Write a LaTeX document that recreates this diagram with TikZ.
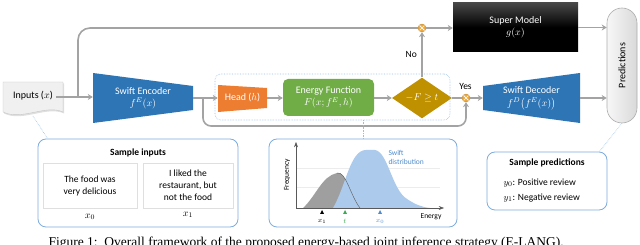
\documentclass[tikz,border=0pt]{standalone}
\usepackage{fontspec}
\setmainfont{Carlito}
\newfontfamily\capfont{Liberation Serif}
\usetikzlibrary{calc, arrows.meta, shapes.geometric, shadows}

\definecolor{swiftblue}{RGB}{46,117,182}
\definecolor{headorange}{RGB}{237,125,49}
\definecolor{energygreen}{RGB}{112,173,71}
\definecolor{gategold}{RGB}{191,144,0}
\definecolor{switchorange}{RGB}{240,170,60}
\definecolor{flowgray}{RGB}{163,163,163}
\definecolor{frameblue}{RGB}{125,172,222}
\definecolor{dotblue}{RGB}{150,190,232}
\definecolor{swiftfill}{RGB}{172,202,236}
\definecolor{swifttext}{RGB}{80,140,205}
\definecolor{thresgreen}{RGB}{60,170,80}

\tikzset{
    flow/.style={draw=flowgray, line width=1.6pt, -{Stealth[length=5pt, width=6pt]}},
    flowline/.style={draw=flowgray, line width=1.6pt},
    dotlink/.style={draw=dotblue, densely dotted, line width=0.6pt},
    blocktext/.style={text=white, align=center, font=\fontsize{10}{12}\selectfont},
    switch/.style={circle, fill=switchorange, draw=switchorange!75!black, line width=0.3pt,
        inner sep=0pt, minimum size=8pt,
        path picture={
            \draw[white, line width=0.7pt, shorten <=2pt, shorten >=2pt]
                (path picture bounding box.north west) -- (path picture bounding box.south east)
                (path picture bounding box.north east) -- (path picture bounding box.south west);
        }},
    samplebox/.style={draw=frameblue, line width=0.8pt, rounded corners=8pt, fill=white},
    sentence/.style={draw=gray!25, line width=0.4pt, align=center, font=\fontsize{9.5}{12}\selectfont},
    charttext/.style={font=\fontsize{7.5}{9}\selectfont}
}

\begin{document}
\begin{tikzpicture}[x=1pt, y=-1pt, >=Stealth]
    \useasboundingbox (0,0) rectangle (640,245);

    % 1. Input sheet (paper with wavy lower edge)
    \filldraw[fill=gray!12, draw=gray!45, line width=0.4pt,
        drop shadow={opacity=0.25, shadow xshift=1pt, shadow yshift=-1.5pt}]
        (3,82) -- (63,82) -- (63,112) .. controls (46,104) and (22,121) .. (3,112) -- cycle;
    \node[blocktext, text=black] (inputs) at (33,96) {Inputs ($x$)};
    \coordinate (inputs tail) at (33,116);

    % 2. Swift encoder / head / decoder (trapezoids)
    \fill[swiftblue] (93,73) -- (193,86) -- (193,110) -- (93,123) -- cycle;
    \node[blocktext, minimum width=100pt] (enc) at (143,98) {Swift Encoder\\$f^{E}(x)$};

    \fill[headorange] (218,85) -- (267,88) -- (267,108) -- (218,112) -- cycle;
    \node[blocktext, minimum width=49pt] (head) at (242.5,98) {Head ($h$)};

    \fill[swiftblue] (483,86) -- (580,73) -- (580,123) -- (483,110) -- cycle;
    \node[blocktext, minimum width=97pt] (dec) at (531.5,98) {Swift Decoder\\[1pt]$f^{D}\bigl(f^{E}(x)\bigr)$};

    % 3. Energy function and threshold test
    \node[blocktext, fill=energygreen, rounded corners=5pt, minimum width=91pt, minimum height=37pt]
        (energy) at (328.5,97.5) {Energy Function\\$F(x; f^{E}, h)$};
    \node[blocktext, diamond, fill=gategold, inner sep=0pt, minimum width=60pt, minimum height=37pt]
        (test) at (422,98) {$-F \geq t$};

    % 4. Super model and predictions
    \node[blocktext, top color=black!72, bottom color=black, middle color=black,
        minimum width=125pt, minimum height=49pt] (super) at (515.5,27.5) {Super Model\\$g(x)$};
    \node[draw=gray!65, line width=0.6pt, left color=gray!6, right color=gray!30,
        rounded corners=15pt, minimum width=30pt, minimum height=115pt] (pred) at (622,65.5) {};
    \node[rotate=90, font=\fontsize{10}{12}\selectfont] (predlabel) at (pred) {Predictions};

    % 5. Switches
    \node[switch] (gateNo) at (422,28) {};
    \node[switch] (gateYes) at (466,98) {};

    % ==========================================
    % Main data flow
    % ==========================================
    \coordinate (split1) at (78,97);
    \coordinate (split2) at (203,98);
    \coordinate (bypass) at (466,126);

    \draw[flow] (inputs.east |- split1) -- (enc.west |- split1);
    \draw[flowline, rounded corners=12pt] (split1) |- (gateNo.west);
    \draw[flow] (gateNo.east) -- (super.west |- gateNo.east);
    \draw[flow] (enc.east) -- (head.west);
    \draw[flow, rounded corners=8pt] (split2) |- (bypass) -- (gateYes.south);
    \draw[flow] (head.east) -- (energy.west |- head.east);
    \draw[flow] (energy.east |- test.west) -- (test.west);
    \draw[flow] (test.north) -- (gateNo.south) node[midway, left, xshift=-1pt, text=black,
        font=\fontsize{9.5}{11}\selectfont] {No};
    \draw[flowline] (test.east) -- (gateYes.west);
    \node[font=\fontsize{9.5}{11}\selectfont] (yes) at (465.5,86) {Yes};
    \draw[flow] (gateYes.east) -- (dec.west);
    \draw[flow] (super.east) -- (super.east -| pred.west);
    \draw[flow] (dec.east) -- (dec.east -| pred.west);

    % Dotted frame round the energy branch
    \node[dotlink, rounded corners=6pt, minimum width=235pt, minimum height=46pt] (focus) at (332.5,97) {};

    % ==========================================
    % Sample inputs
    % ==========================================
    \node[samplebox, minimum width=200pt, minimum height=88pt] (inbox) at (138,183) {};
    \node[font=\bfseries\fontsize{9.5}{11}\selectfont] (intitle) at (138,153) {Sample inputs};
    \node[sentence, minimum width=94pt, minimum height=45pt] (sent0) at (90,185.5)
        {The food was\\very delicious};
    \node[sentence, minimum width=90pt, minimum height=45pt] (sent1) at (188,185.5)
        {I liked the\\restaurant, but\\not the food};
    \node (lab0) at (90,217) {$x_0$};
    \node (lab1) at (188,215) {$x_1$};
    \draw[dotlink] (inputs tail) -- ($(inbox.north west)+(10,0)$);

    % ==========================================
    % Energy distributions
    % ==========================================
    \node[samplebox, minimum width=188pt, minimum height=88pt] (chart) at (363,183) {};
    \draw[dotlink] (chart.north |- focus.south) -- (chart.north);

    \draw[gray!15, line width=0.4pt] (296,168) -- (440,168) (296,187) -- (440,187);
    \fill[gray!75] (303,208) .. controls (316,196) and (322,176) .. (337,173)
        .. controls (346,171) and (350,195) .. (360,208) -- cycle;
    \fill[swiftfill] (333,208) .. controls (346,186) and (350,150) .. (366,150)
        -- (375,150) .. controls (388,152) and (392,190) .. (407,199)
        .. controls (416,205) and (422,207) .. (430,208) -- cycle;
    \draw[gray!70!black, line width=0.4pt] (337,173) .. controls (346,171) and (350,195) .. (360,208);
    \draw[->, gray!70!black, line width=0.5pt] (296,208) -- (296,142);
    \draw[->, gray!70!black, line width=0.5pt] (296,208) -- (444,208);
    \node[charttext, rotate=90] (ylab) at (287,175) {Frequency};
    \node[charttext] (xlab) at (431,217) {Energy};
    \node[charttext, text=swifttext, align=left, anchor=north west] (swiftlab) at (385,147)
        {Swift\\distribution};

    \fill[black] (320,214) -- (324,214) -- (322,210) -- cycle;
    \fill[thresgreen] (343,214) -- (347,214) -- (345,210) -- cycle;
    \fill[swifttext] (378,214) -- (382,214) -- (380,210) -- cycle;
    \node[charttext] (mark1) at (322,221) {$x_1$};
    \node[charttext, text=thresgreen] (markt) at (345,221) {$t$};
    \node[charttext, text=swifttext] (mark0) at (380,221) {$x_0$};

    % ==========================================
    % Sample predictions
    % ==========================================
    \node[samplebox, minimum width=120pt, minimum height=58pt] (predbox) at (547,181) {};
    \node[font=\bfseries\fontsize{9.5}{11}\selectfont] (predtitle) at (547,163) {Sample predictions};
    \node[anchor=west, font=\fontsize{9.5}{11}\selectfont] (y0) at (500,183) {$y_0$: Positive review};
    \node[anchor=west, font=\fontsize{9.5}{11}\selectfont] (y1) at (500,198) {$y_1$: Negative review};
    \draw[dotlink] (pred.south) -- ($(predbox.north east)+(-8,0)$);

    % Caption
    \node[anchor=base west, font=\capfont\fontsize{13.5}{15}\selectfont] (caption) at (45,246.5)
        {Figure 1:\ \ Overall framework of the proposed energy-based joint inference strategy (E-LANG).};

\end{tikzpicture}
\end{document}
